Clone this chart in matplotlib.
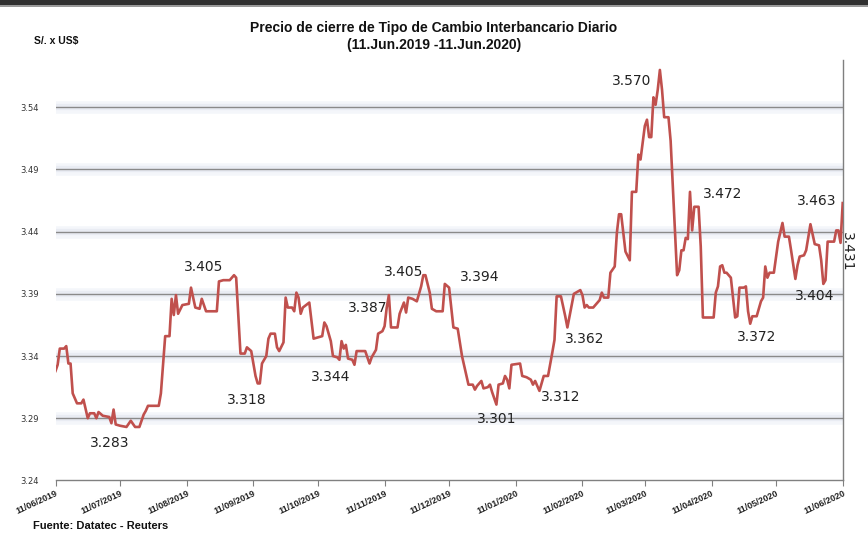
import numpy as np
import matplotlib
matplotlib.use("Agg")
import matplotlib.pyplot as plt
import matplotlib.dates as mdates
from matplotlib.patches import Rectangle

# ---------------- data ----------------
start_date = "2019-06-11"
end_date = "2020-06-11"

# days since 11/06/2019
day_offset = [
    0, 1, 2, 4, 5, 6, 7, 8, 10, 12, 13, 15, 16, 18, 19, 20, 22, 25, 26, 27, 28, 30,
    33, 35, 37, 39, 41, 42, 43, 48, 49, 51, 53, 54, 55, 56, 57, 59, 62, 63, 65, 67,
    68, 70, 75, 76, 78, 81, 83, 84, 86, 88, 89, 91, 93, 94, 95, 96, 98, 99, 100, 102,
    103, 104, 106, 107, 108, 110, 111, 112, 113, 114, 115, 118, 120, 124, 125, 126,
    128, 129, 131, 132, 133, 134, 135, 136, 138, 139, 140, 143, 144, 146, 147, 149,
    150, 152, 153, 154, 155, 156, 159, 160, 162, 163, 164, 166, 168, 170, 171, 172,
    174, 175, 177, 180, 181, 183, 185, 187, 189, 192, 194, 195, 196, 198, 199, 201,
    202, 203, 205, 206, 208, 209, 210, 211, 212, 216, 217, 219, 221, 222, 223, 225,
    227, 229, 231, 232, 233, 235, 237, 238, 241, 242, 244, 245, 246, 247, 248, 250,
    251, 252, 253, 254, 255, 257, 258, 260, 261, 262, 263, 265, 267, 268, 270, 271,
    272, 274, 275, 276, 277, 278, 279, 280, 281, 282, 283, 285, 286, 289, 290, 291,
    292, 293, 294, 295, 296, 297, 299, 300, 301, 306, 307, 308, 309, 310, 311, 312,
    314, 316, 317, 318, 320, 321, 322, 323, 324, 326, 328, 329, 330, 331, 332, 334,
    336, 338, 339, 341, 342, 344, 345, 346, 348, 349, 351, 353, 355, 356, 357, 358,
    359, 362, 363, 364, 365, 366,
]

exchange_rate = [
    3.328, 3.333, 3.346, 3.346, 3.348, 3.334, 3.334, 3.310, 3.302, 3.302, 3.305, 3.290,
    3.294, 3.294, 3.290, 3.295, 3.292, 3.291, 3.286, 3.297, 3.285, 3.284,
    3.283, 3.288, 3.283, 3.283, 3.293, 3.296, 3.300, 3.300, 3.310, 3.356, 3.356, 3.386,
    3.373, 3.389, 3.374, 3.381, 3.382, 3.395, 3.379, 3.378,
    3.386, 3.376, 3.376, 3.400, 3.401, 3.401, 3.405, 3.403, 3.342, 3.342, 3.347, 3.344,
    3.324, 3.318, 3.318, 3.334, 3.340, 3.354, 3.358, 3.358,
    3.347, 3.344, 3.351, 3.387, 3.379, 3.379, 3.376, 3.391, 3.387, 3.374, 3.379, 3.383,
    3.354, 3.356, 3.367, 3.364,
    3.352, 3.340, 3.339, 3.337, 3.352, 3.346, 3.349, 3.338, 3.337, 3.333, 3.344, 3.344,
    3.344, 3.334, 3.339, 3.345,
    3.358, 3.360, 3.364, 3.379, 3.389, 3.363, 3.363, 3.374, 3.383, 3.375, 3.387, 3.386,
    3.384, 3.396, 3.405, 3.405,
    3.391, 3.378, 3.376, 3.376, 3.398, 3.395, 3.363, 3.362, 3.340, 3.317, 3.317, 3.313,
    3.316, 3.320, 3.314, 3.315,
    3.317, 3.311, 3.301, 3.317, 3.318, 3.324, 3.321, 3.314, 3.333, 3.334, 3.324, 3.323,
    3.321, 3.317, 3.320, 3.312,
    3.324, 3.324, 3.343, 3.353, 3.388, 3.388, 3.372, 3.363, 3.390, 3.391, 3.393, 3.389,
    3.379, 3.381, 3.379, 3.379,
    3.381, 3.383, 3.385, 3.391, 3.387, 3.387, 3.407, 3.412, 3.439, 3.454, 3.454, 3.424,
    3.417, 3.472, 3.472, 3.502,
    3.498, 3.525, 3.530, 3.516, 3.516, 3.548, 3.542, 3.554, 3.570, 3.554, 3.532, 3.532,
    3.513, 3.405, 3.409, 3.425,
    3.425, 3.435, 3.434, 3.472, 3.441, 3.460, 3.460, 3.428, 3.371, 3.371, 3.391, 3.396,
    3.412, 3.413, 3.407, 3.407,
    3.403, 3.371, 3.372, 3.395, 3.395, 3.396, 3.376, 3.366, 3.372, 3.372, 3.384, 3.387,
    3.412, 3.403, 3.407, 3.407,
    3.432, 3.447, 3.436, 3.436, 3.425, 3.402, 3.413, 3.420, 3.421, 3.425, 3.446, 3.430,
    3.429, 3.417, 3.398, 3.401,
    3.432, 3.432, 3.441, 3.441, 3.431, 3.463,
]

y_ticks = [3.24, 3.29, 3.34, 3.39, 3.44, 3.49, 3.54]

label_text = ["3.283", "3.405", "3.318", "3.344", "3.387", "3.405", "3.394", "3.301",
              "3.312", "3.362", "3.570", "3.472", "3.372", "3.463", "3.404"]
label_day = [25.3, 68.6, 88.9, 128.1, 144.8, 162.3, 197.4, 204.6,
             235.4, 245.7, 267.9, 309.7, 325.7, 354.5, 353.1]
label_value = [3.2701, 3.4117, 3.3047, 3.3235, 3.3785, 3.4075, 3.4039, 3.2892,
               3.3074, 3.3538, 3.5608, 3.4704, 3.3556, 3.4648, 3.3884]
last_label_text = "3.431"
last_label_day = 368.5
last_label_value = 3.4238

title_line1 = "Precio de cierre de Tipo de Cambio Interbancario Diario"
title_line2 = "(11.Jun.2019 -11.Jun.2020)"
unit_label = "S/. x US$"
source_label = "Fuente: Datatec - Reuters"

# ---------------- figure ----------------
W, H = 868, 535
fig = plt.figure(figsize=(W / 100, H / 100), dpi=100)
fig.patch.set_facecolor("white")

# dark strip at the top
fig.patches.append(Rectangle((0, 1 - 5 / H), 1, 5 / H, transform=fig.transFigure,
                             facecolor="#303030", edgecolor="none", zorder=0))
fig.patches.append(Rectangle((0, 1 - 7 / H), 1, 2 / H, transform=fig.transFigure,
                             facecolor="#9a9a9a", edgecolor="none", zorder=0))

ax = fig.add_axes([55.5 / W, (H - 480.45) / H, (842.7 - 55.5) / W, (480.45 - 60) / H])
ax.set_facecolor("white")

start = np.datetime64(start_date)
dates = start + np.array(day_offset).astype("timedelta64[D]")
ax.plot(dates, exchange_rate, color="#c0504d", lw=1.9, zorder=5, solid_joinstyle="round")

ax.set_xlim(np.datetime64(start_date), np.datetime64(end_date))
ax.set_ylim(3.24, 3.578)

# gridlines with soft glow
for yv in y_ticks[1:]:
    ax.axhline(yv, color="#f4f6fa", lw=9, zorder=1)
    ax.axhline(yv, color="#e9ecf3", lw=4.5, zorder=1.5)
    ax.axhline(yv, color="#8a8a8a", lw=1.0, zorder=2)

ax.set_yticks(y_ticks)
ax.set_yticklabels([f"{v:.2f}" for v in y_ticks])
ax.tick_params(axis="y", length=0, pad=12, labelsize=6, labelcolor="#333333")

ax.xaxis.set_major_locator(mdates.MonthLocator(bymonthday=11))
ax.xaxis.set_major_formatter(mdates.DateFormatter("%d/%m/%Y"))
ax.tick_params(axis="x", length=4, width=0.8, color="#808080", pad=2)
for lbl in ax.get_xticklabels():
    lbl.set_rotation(25)
    lbl.set_ha("right")
    lbl.set_va("top")
    lbl.set_rotation_mode("anchor")
    lbl.set_fontsize(6.5)
    lbl.set_fontweight("bold")
    lbl.set_family(["Liberation Sans", "DejaVu Sans"])
    lbl.set_color("#222222")

for s in ["left", "top"]:
    ax.spines[s].set_visible(False)
ax.spines["bottom"].set_color("#808080")
ax.spines["bottom"].set_linewidth(1.0)
ax.spines["right"].set_color("#7f7f7f")
ax.spines["right"].set_linestyle((0, (1, 1)))
ax.spines["right"].set_linewidth(1.0)

# value labels
for t, d, v in zip(label_text, label_day, label_value):
    ax.text(start + np.timedelta64(int(round(d)), "D"), v, t, ha="center", va="center",
            fontsize=10, color="#222222", family="DejaVu Sans", zorder=6)
ax.text(start + np.timedelta64(int(round(last_label_day)), "D"), last_label_value,
        last_label_text, ha="center", va="center", rotation=-90, fontsize=10,
        color="#222222", family="DejaVu Sans", zorder=6, clip_on=False)

# titles
fig.text(0.5, 1 - 28 / H, title_line1, ha="center", va="center", fontsize=10,
         fontweight="bold", family=["Liberation Sans"], color="#111111")
fig.text(0.5, 1 - 45 / H, title_line2, ha="center", va="center", fontsize=10,
         fontweight="bold", family=["Liberation Sans"], color="#111111")
fig.text(34 / W, 1 - 41 / H, unit_label, ha="left", va="center", fontsize=7.5,
         fontweight="bold", family=["Liberation Sans"], color="#111111")
fig.text(33 / W, 1 - 526 / H, source_label, ha="left", va="center", fontsize=8,
         fontweight="bold", family=["Liberation Sans"], color="#111111")

fig.savefig("out.png", dpi=100, facecolor="white")
